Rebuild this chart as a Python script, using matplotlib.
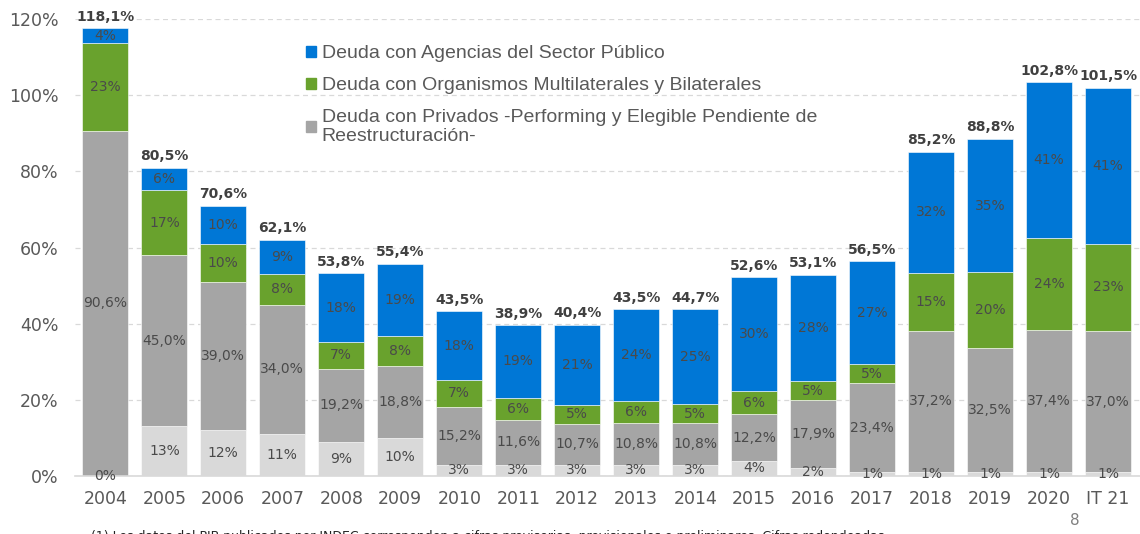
import matplotlib
matplotlib.use("Agg")
import matplotlib.pyplot as plt
from matplotlib.patches import Patch
import numpy as np

years = ['2004', '2005', '2006', '2007', '2008', '2009', '2010', '2011', '2012',
         '2013', '2014', '2015', '2016', '2017', '2018', '2019', '2020', 'IT 21']
otros = [0, 13, 12, 11, 9, 10, 3, 3, 3, 3, 3, 4, 2, 1, 1, 1, 1, 1]
privados = [90.6, 45.0, 39.0, 34.0, 19.2, 18.8, 15.2, 11.6, 10.7, 10.8, 10.8,
            12.2, 17.9, 23.4, 37.2, 32.5, 37.4, 37.0]
multilat = [23, 17, 10, 8, 7, 8, 7, 6, 5, 6, 5, 6, 5, 5, 15, 20, 24, 23]
agencias = [4, 6, 10, 9, 18, 19, 18, 19, 21, 24, 25, 30, 28, 27, 32, 35, 41, 41]
totales = [118.1, 80.5, 70.6, 62.1, 53.8, 55.4, 43.5, 38.9, 40.4, 43.5, 44.7,
           52.6, 53.1, 56.5, 85.2, 88.8, 102.8, 101.5]

legend_labels = ['Deuda con Agencias del Sector Público',
                 'Deuda con Organismos Multilaterales y Bilaterales',
                 'Deuda con Privados -Performing y Elegible Pendiente de\nReestructuración-']

c_light = '#d9d9d9'
c_gray = '#a5a5a5'
c_green = '#69a22d'
c_blue = '#0077d6'
txt = '#404040'

def fmt1(v):
    return ('%.1f%%' % v).replace('.', ',')

fig = plt.figure(figsize=(11.4, 5.34), dpi=100)
ax = fig.add_axes([0.066, 0.1086, 0.934, 0.8558])

x = np.arange(len(years))
w = 0.78
series = [(otros, c_light, False), (privados, c_gray, True),
          (multilat, c_green, False), (agencias, c_blue, False)]
bottom = np.zeros(len(years))
for vals, col, dec in series:
    vals = np.array(vals, dtype=float)
    ax.bar(x, vals, w, bottom=bottom, color=col, edgecolor='white', linewidth=0.4, zorder=2)
    for i, v in enumerate(vals):
        lab = fmt1(v) if dec else '%d%%' % v
        ax.text(x[i], bottom[i] + v / 2, lab, ha='center', va='center',
                fontsize=10, color='#4a4a4a', zorder=3)
    bottom += vals

for i, t in enumerate(totales):
    ax.text(x[i], bottom[i] + 1.2, fmt1(t), ha='center', va='bottom',
            fontsize=10, fontweight='bold', color=txt, zorder=3)

ax.set_xlim(-0.51, 17.54)
ax.set_ylim(0, 120)
ax.set_yticks(range(0, 121, 20))
ax.set_yticklabels(['%d%%' % v for v in range(0, 121, 20)])
ax.set_xticks(x)
ax.set_xticklabels(years)
ax.tick_params(axis='both', length=0, labelsize=12.5, colors='#595959')
ax.tick_params(axis='y', pad=12)
ax.tick_params(axis='x', pad=10)
ax.yaxis.grid(True, linestyle=(0, (4, 3)), color='#d9d9d9', linewidth=0.9, zorder=0)
ax.set_axisbelow(True)
for s in ['top', 'right', 'left']:
    ax.spines[s].set_visible(False)
ax.spines['bottom'].set_color('#d9d9d9')
ax.spines['bottom'].set_linewidth(1.2)

handles = [Patch(color=c_blue), Patch(color=c_green), Patch(color=c_gray)]
leg = fig.legend(handles, legend_labels, loc='upper left', bbox_to_anchor=(306 / 1140, 1 - 45 / 534),
                 frameon=False, handlelength=0.5, handleheight=0.5, borderpad=0, borderaxespad=0,
                 handletextpad=0.3, labelspacing=0.78, prop={'family': 'Liberation Sans', 'size': 14})
for t in leg.get_texts():
    t.set_color('#595959')
    t.set_linespacing(1.12)

fig.text(0.08, -0.005, '(1) Los datos del PIB publicados por INDEC corresponden a cifras provisorias, '
         'provisionales o preliminares. Cifras redondeadas', fontsize=9, color='#222222',
         ha='left', va='center')
fig.text(0.943, 0.025, '8', fontsize=11, color='#7f7f7f', ha='center', va='center')

fig.savefig('out.png', dpi=100)
